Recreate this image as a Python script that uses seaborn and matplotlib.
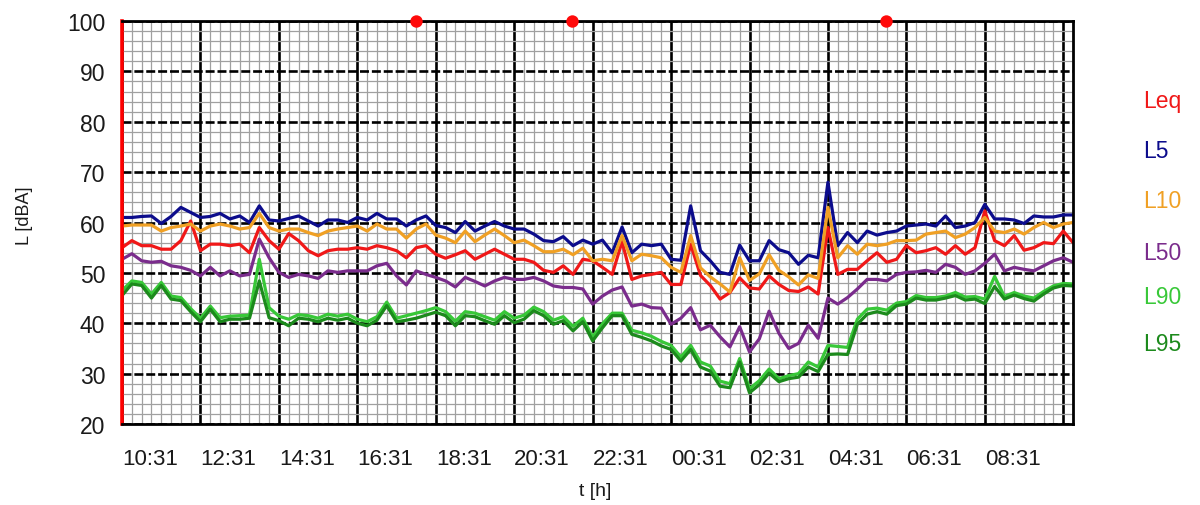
import numpy as np
import pandas as pd
import matplotlib
matplotlib.use("Agg")
import matplotlib.pyplot as plt
import matplotlib.ticker as mticker
import seaborn as sns

# Sampling: one value every 15 minutes, starting 10:31
START = "2000-01-01 10:31"
STEP = "15min"

LEQ = [55.0, 56.4, 55.4, 55.4, 54.7, 54.7, 56.4, 60.3, 54.4, 55.7, 55.7, 55.4, 55.7, 54.0, 59.0, 56.4, 54.7,
       57.8, 56.4, 54.4, 53.4, 54.4, 54.7, 54.7, 55.0, 54.7, 55.4, 55.0, 54.4, 53.0, 55.0, 55.4, 53.7,
       52.9, 53.6, 54.4, 52.7, 53.7, 54.7, 53.7, 52.7, 52.7, 52.1, 50.5, 50.1, 51.4, 49.7, 52.7, 52.4,
       51.1, 49.7, 56.2, 48.7, 49.4, 49.7, 50.1, 47.7, 47.7, 55.7, 49.5, 47.5, 44.8, 46.1, 49.0, 47.0,
       46.8, 49.4, 47.7, 46.5, 46.3, 47.2, 45.8, 59.0, 49.7, 50.7, 50.7, 52.4, 54.0, 52.1, 52.7, 55.4,
       54.0, 54.4, 55.0, 53.7, 55.4, 53.7, 55.0, 62.3, 56.4, 55.4, 57.4, 54.5, 55.0, 56.0, 55.8, 58.3, 56.0]
L5 = [61.0, 61.0, 61.2, 61.3, 59.8, 61.2, 63.0, 62.0, 61.0, 61.2, 61.8, 60.7, 61.3, 60.0, 63.3, 60.5, 60.3,
      60.8, 61.3, 60.3, 59.3, 60.5, 60.5, 60.0, 61.0, 60.5, 61.8, 60.7, 60.7, 59.3, 60.5, 61.3, 59.4,
      59.0, 58.0, 60.2, 58.3, 59.3, 60.2, 59.3, 58.7, 58.7, 57.7, 56.4, 56.2, 57.2, 55.4, 56.5, 55.7,
      56.5, 54.0, 59.1, 54.0, 55.7, 55.4, 55.7, 52.7, 52.5, 63.3, 54.4, 52.4, 50.1, 49.7, 55.5, 52.4,
      52.4, 56.4, 54.6, 54.0, 51.7, 53.5, 53.0, 68.0, 55.4, 58.0, 56.0, 58.3, 57.5, 58.0, 58.3, 59.3,
      59.5, 59.7, 59.3, 61.3, 59.0, 59.3, 60.0, 63.6, 60.7, 60.7, 60.5, 59.8, 61.3, 61.1, 61.1, 61.5, 61.5]
L10 = [59.3, 59.5, 59.5, 59.5, 58.3, 59.0, 59.3, 59.7, 58.3, 59.3, 59.7, 59.3, 58.7, 59.0, 61.8, 59.0, 58.3,
       58.7, 58.7, 58.0, 57.4, 58.3, 58.7, 59.0, 59.3, 58.3, 59.7, 58.7, 58.7, 56.9, 58.7, 59.7, 57.5,
       56.9, 56.0, 58.3, 56.2, 57.5, 58.7, 57.4, 56.0, 56.5, 55.4, 54.2, 54.2, 54.7, 53.6, 54.9, 52.4,
       52.7, 52.4, 57.4, 52.4, 53.7, 53.4, 53.0, 51.1, 50.1, 57.4, 51.0, 49.2, 47.8, 46.2, 53.0, 48.5,
       49.8, 53.6, 50.5, 49.2, 47.6, 49.6, 48.9, 63.0, 53.0, 55.4, 53.7, 55.7, 55.4, 55.7, 56.4, 56.4,
       56.5, 57.7, 58.0, 58.3, 57.0, 57.7, 59.0, 61.0, 58.3, 58.0, 58.7, 57.7, 59.0, 60.0, 59.0, 59.7, 60.0]
L50 = [52.7, 53.8, 52.4, 52.1, 52.3, 51.4, 51.1, 50.5, 49.4, 51.1, 49.4, 50.4, 49.4, 49.7, 56.7, 53.0, 50.1,
       49.1, 49.7, 49.4, 48.9, 50.4, 50.1, 50.4, 50.4, 50.4, 51.4, 51.9, 49.4, 47.6, 50.4, 49.7, 49.1,
       48.4, 47.2, 49.1, 48.3, 47.4, 48.4, 49.1, 48.7, 48.7, 49.1, 48.4, 47.4, 47.1, 47.1, 46.8, 43.8,
       45.4, 46.6, 47.2, 43.4, 43.8, 43.1, 43.0, 39.8, 41.0, 43.1, 38.7, 39.6, 37.3, 35.3, 39.3, 34.3,
       36.9, 42.4, 38.0, 35.0, 36.0, 39.6, 37.0, 45.0, 43.8, 45.1, 46.8, 48.7, 48.7, 48.4, 49.7, 50.1,
       50.2, 50.5, 50.1, 51.7, 51.1, 49.7, 50.4, 51.9, 53.7, 50.4, 51.1, 50.7, 50.4, 51.4, 52.4, 53.0, 52.1]
L90 = [46.5, 48.4, 48.1, 45.8, 48.1, 45.4, 45.1, 42.9, 41.0, 43.4, 41.1, 41.4, 41.5, 41.6, 52.7, 43.1, 41.4,
       40.8, 41.7, 41.5, 41.0, 41.8, 41.4, 41.8, 40.8, 40.3, 41.3, 44.2, 41.0, 41.5, 42.0, 42.5, 43.1,
       42.3, 40.4, 42.3, 42.0, 41.3, 40.6, 42.3, 41.0, 41.6, 43.2, 42.3, 40.6, 41.3, 39.4, 41.0, 37.3,
       39.9, 42.0, 42.0, 38.6, 38.1, 37.4, 36.4, 35.6, 33.3, 35.6, 32.3, 31.5, 28.5, 28.0, 33.0, 27.0,
       28.6, 30.9, 29.0, 29.6, 30.0, 32.3, 31.3, 35.6, 35.4, 35.2, 40.8, 42.8, 43.0, 42.6, 44.0, 44.3,
       45.5, 45.1, 45.1, 45.4, 46.1, 45.2, 45.3, 44.8, 49.3, 45.3, 46.1, 45.4, 45.0, 46.3, 47.4, 47.9, 47.8]
L95 = [45.5, 47.8, 47.5, 45.0, 47.5, 44.8, 44.5, 42.3, 40.3, 42.8, 40.3, 40.8, 40.8, 41.0, 48.4, 41.1, 40.5,
       39.5, 41.0, 40.8, 40.3, 41.0, 40.6, 41.0, 40.0, 39.5, 40.6, 43.5, 40.3, 40.6, 41.0, 41.6, 42.2,
       41.5, 39.5, 41.5, 41.3, 40.5, 39.8, 41.5, 40.1, 40.8, 42.5, 41.5, 39.8, 40.5, 38.5, 40.3, 36.5,
       39.1, 41.5, 41.5, 37.8, 37.2, 36.5, 35.5, 34.8, 32.5, 34.8, 31.3, 30.5, 27.5, 27.2, 32.3, 26.2,
       27.8, 30.1, 28.4, 29.0, 29.3, 31.3, 30.4, 33.8, 33.9, 33.8, 39.8, 41.8, 42.3, 41.8, 43.5, 43.8,
       45.0, 44.6, 44.6, 45.0, 45.5, 44.6, 44.8, 43.9, 47.3, 44.8, 45.6, 44.9, 44.4, 45.8, 47.0, 47.5, 47.4]

SERIES = ["Leq", "L5", "L10", "L50", "L90", "L95"]
COLORS = ["#f01818", "#0c0c8c", "#f0a024", "#7a2c8c", "#38c838", "#1c8a1c"]
TICK_LABELS = ["10:31", "12:31", "14:31", "16:31", "18:31", "20:31",
               "22:31", "00:31", "02:31", "04:31", "06:31", "08:31"]
EVENT_TIMES = ["2000-01-01 18:00", "2000-01-01 22:00", "2000-01-02 06:00"]
EVENT_LEVEL = 100

values = dict(zip(SERIES, [LEQ, L5, L10, L50, L90, L95]))
for name, v in values.items():
    assert len(v) == len(LEQ), name

times = pd.date_range(START, periods=len(LEQ), freq=STEP)
df = pd.DataFrame({"t": times, **values}).melt(id_vars="t", var_name="series", value_name="L")

sns.set_theme(style="white")
plt.rcParams["font.family"] = ["Liberation Sans", "DejaVu Sans"]

fig = plt.figure(figsize=(12, 5.06), dpi=100)
ax = fig.add_axes([0.1017, 0.1601, 0.7925, 0.7964])

# background grid: fine grey mesh, black 2-hour / 10 dB lines
ax.set_axisbelow(True)
tick_times = pd.date_range(START, periods=len(TICK_LABELS) + 1, freq="2h")
minor_times = pd.date_range(START, times[-1], freq="15min")
ax.set_xticks(tick_times)
ax.set_xticks(minor_times, minor=True)
ax.set_xticklabels(TICK_LABELS + [""], ha="left")
ax.yaxis.set_major_locator(mticker.MultipleLocator(10))
ax.yaxis.set_minor_locator(mticker.MultipleLocator(2))
ax.grid(which="minor", color="#a0a0a0", linewidth=0.9, linestyle="-")
ax.grid(which="major", axis="x", color="black", linewidth=1.9, linestyle="-")
ax.grid(which="major", axis="y", color="black", linewidth=1.9, linestyle=(0, (3.4, 1.1)))

sns.lineplot(data=df, x="t", y="L", hue="series", hue_order=SERIES,
             palette=dict(zip(SERIES, COLORS)), linewidth=2.3, legend=False, ax=ax)

ax.set_xlim(times[0], times[-1])
ax.set_ylim(20, 100)

ax.scatter(pd.to_datetime(EVENT_TIMES), [EVENT_LEVEL] * len(EVENT_TIMES),
           s=80, color="#ff0a0a", zorder=10, clip_on=False, linewidths=0)

for side in ["top", "right", "bottom"]:
    ax.spines[side].set_color("black")
    ax.spines[side].set_linewidth(2.0)
ax.spines["left"].set_color("#ff0000")
ax.spines["left"].set_linewidth(2.6)

ax.tick_params(which="minor", length=0)
ax.tick_params(axis="both", which="major", direction="out", length=6, width=1.2,
               color="black", labelcolor="#1a1a1a")
ax.tick_params(axis="y", labelsize=16.5, pad=6)
ax.tick_params(axis="x", labelsize=16, pad=11)

ax.set_xlabel("t [h]", fontsize=14, color="#1a1a1a", va="center")
ax.xaxis.set_label_coords(0.498, -0.166)
ax.set_ylabel("L [dBA]", fontsize=13, color="#1a1a1a")
ax.yaxis.set_label_coords(-0.094, 0.52)

# series names in their line colours, stacked on the right
label_y = [102, 152, 202, 253, 297, 345]
for name, color, ypx in zip(SERIES, COLORS, label_y):
    fig.text(1143 / 1200, 1 - ypx / 506, name, color=color, fontsize=16.5,
             ha="left", va="center")

fig.savefig("out.png", dpi=100)
